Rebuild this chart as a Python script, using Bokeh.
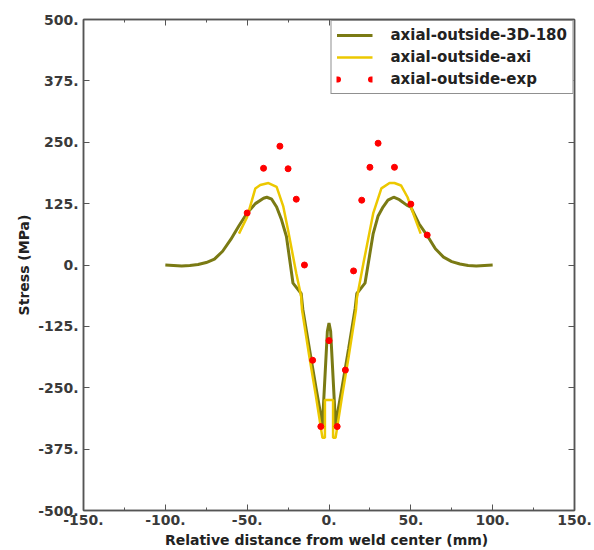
from bokeh.plotting import figure
from bokeh.models import (LinearAxis, FixedTicker, Legend, LegendItem, Range1d)
from bokeh.embed import file_html
from bokeh.resources import INLINE

# ---- data ----
x_3d = [-100, -95, -90, -85, -80, -75, -70, -65, -60, -55, -50, -45, -40, -38, -35,
        -32, -29, -26, -22, -17, -16, -12, -8, -4, -1, 0, 1, 4, 8, 12, 16, 17,
        22, 27, 30, 33, 36, 39.5, 43, 47.5, 50, 55, 60, 65, 70, 75, 80, 85, 90, 95, 100]
y_3d = [0, -1, -2, -1, 1, 5, 12, 28, 52, 80, 106, 125, 136, 138, 134,
        118, 92, 58, -37, -58, -90, -170, -249, -325, -135, -118, -135, -325, -249, -170, -88, -58,
        -37, 64, 100, 118, 132, 138, 133, 122, 118, 84, 60, 33, 16, 7, 2, -1, -2, -1, 0]

x_axi = [-55, -50, -45, -42, -37, -32, -28, -25, -20, -17, -16.5, -12, -8, -4, -2.5, -2.5,
         2.5, 2.5, 4, 8, 12, 16.5, 17, 21, 27, 32, 37, 40, 44, 48, 52, 56]
y_axi = [64, 98, 156, 163, 167, 159, 120, 71, -17, -64, -91, -187, -267, -352, -352, -275,
         -275, -352, -352, -267, -187, -91, -68, 3, 105, 156, 167, 167, 162, 138, 100, 64]

x_exp = [-50, -40, -30, -25, -20, -15, -10, -5, 0, 5, 10, 15, 20, 25, 30, 40, 50, 60]
y_exp = [106, 197, 242, 196, 134, 0, -194, -329, -154, -329, -214, -12, 132, 199, 248, 199, 124, 61]

x_ticks = [-150, -100, -50, 0, 50, 100, 150]
x_tick_labels = ["-150.", "-100.", "-50.", "0.", "50.", "100.", "150."]
x_minor = [-125, -75, -25, 25, 75, 125]
y_ticks = [-500, -375, -250, -125, 0, 125, 250, 375, 500]
y_tick_labels = ["-500.", "-375.", "-250.", "-125.", "0.", "125.", "250.", "375.", "500."]

series_names = ["axial-outside-3D-180", "axial-outside-axi", "axial-outside-exp"]
OLIVE = "#7a7a14"
YELLOW = "#ecc800"
RED = "#ff0000"
FONT = "DejaVu Sans"

p = figure(width=594, height=550, output_backend="svg", toolbar_location=None,
           x_range=Range1d(-150, 150), y_range=Range1d(-500, 500),
           x_axis_label="Relative distance from  weld center (mm)",
           y_axis_label="Stress (MPa)",
           min_border_left=83, min_border_right=20, min_border_top=19, min_border_bottom=39)
p.xgrid.visible = False
p.ygrid.visible = False
p.outline_line_color = "#555555"
p.outline_line_width = 1.5
p.background_fill_color = "white"
p.border_fill_color = "white"

r1 = p.line(x_3d, y_3d, line_color=OLIVE, line_width=3)
r2 = p.line(x_axi, y_axi, line_color=YELLOW, line_width=2.5)
r3 = p.scatter(x_exp, y_exp, size=6, fill_color=RED, line_color=RED)
# legend-only glyph (nothing drawn in the plot): two dots at the ends of the legend sample
r3_leg = p.line([float("nan")], [float("nan")], line_color=RED, line_width=6,
                line_cap="round", line_dash="1 33")

def style_axis(ax, ticks, minor, labels, show_labels=True):
    ax.ticker = FixedTicker(ticks=ticks, minor_ticks=minor)
    ax.major_tick_in = 6
    ax.major_tick_out = 0
    ax.minor_tick_in = 3
    ax.minor_tick_out = 0
    ax.axis_line_color = "#555555"
    ax.major_tick_line_color = "#555555"
    ax.minor_tick_line_color = "#555555"
    ax.axis_line_width = 1.5
    if show_labels:
        ax.major_label_overrides = {t: l for t, l in zip(ticks, labels)}
        ax.major_label_text_font = FONT
        ax.major_label_text_font_style = "bold"
        ax.major_label_text_font_size = "14px"
        ax.major_label_text_color = "#3a3a3a"
        ax.major_label_standoff = 5
        ax.axis_label_text_font = FONT
        ax.axis_label_text_font_style = "bold"
        ax.axis_label_text_font_size = "14px"
        ax.axis_label_text_color = "#222222"
        ax.axis_label_standoff = 3
    else:
        ax.major_label_overrides = {t: "" for t in ticks}
        ax.major_label_standoff = 0

style_axis(p.xaxis[0], x_ticks, x_minor, x_tick_labels)
style_axis(p.yaxis[0], y_ticks, [], y_tick_labels)
p.xaxis[0].major_label_standoff = 4
p.xaxis[0].axis_label_standoff = 4

top = LinearAxis()
style_axis(top, x_ticks, x_minor, x_tick_labels, show_labels=False)
p.add_layout(top, "above")
right = LinearAxis()
style_axis(right, y_ticks, [], y_tick_labels, show_labels=False)
p.add_layout(right, "right")

legend = Legend(items=[LegendItem(label=series_names[0], renderers=[r1]),
                       LegendItem(label=series_names[1], renderers=[r2]),
                       LegendItem(label=series_names[2], renderers=[r3_leg])],
                location="top_right")
legend.margin = 1
legend.padding = 5
legend.spacing = 4
legend.glyph_width = 36
legend.glyph_height = 18
legend.label_height = 18
legend.label_standoff = 18
legend.label_text_font = FONT
legend.label_text_font_style = "bold"
legend.label_text_font_size = "15px"
legend.label_text_color = "#222222"
legend.border_line_color = "#222222"
legend.border_line_width = 1
legend.background_fill_alpha = 1
p.add_layout(legend)

open("out.html", "w").write(file_html(p, INLINE))
